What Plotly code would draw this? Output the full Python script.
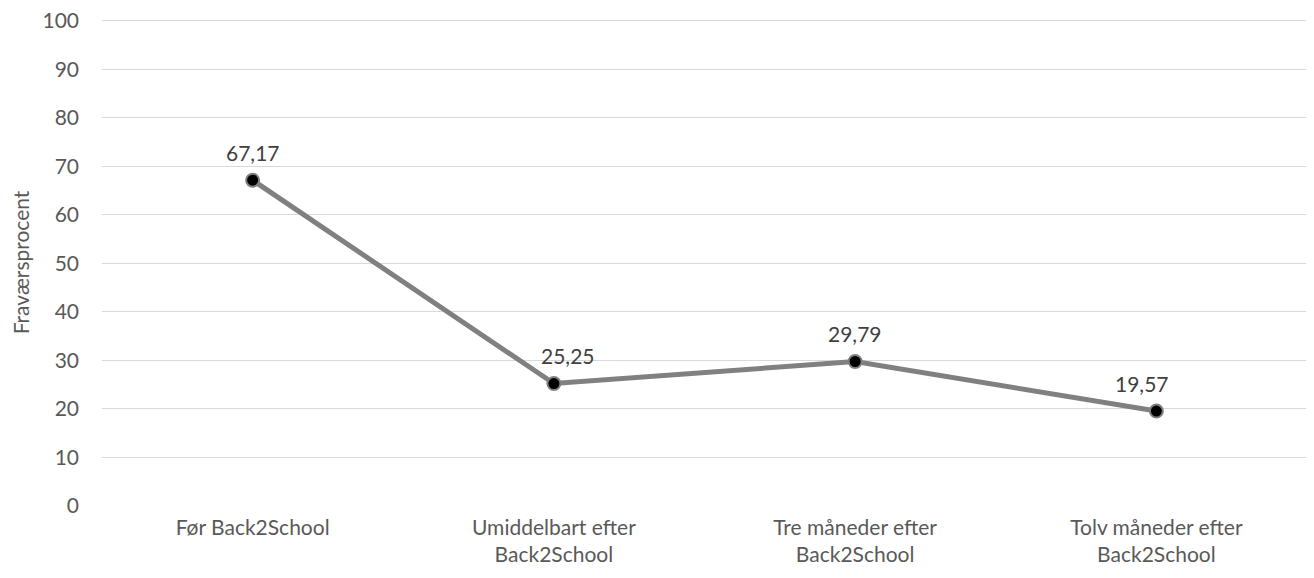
import plotly.graph_objects as go

categories = ["Før Back2School", "Umiddelbart efter<br>Back2School",
              "Tre måneder efter<br>Back2School", "Tolv måneder efter<br>Back2School"]
values = [67.17, 25.25, 29.79, 19.57]
labels = ["67,17", "25,25", "29,79", "19,57"]
y_ticks = list(range(0, 101, 10))

# label placement tweaks (pixels), as in the original
label_dx = [0, 14, 0, -14]

FONT = "Lato"
TXT = "#595959"
FS = 21

fig = go.Figure()
fig.add_trace(go.Scatter(
    x=categories, y=values, mode="lines+markers",
    line=dict(color="#808080", width=5),
    marker=dict(size=13, color="black", line=dict(color="#808080", width=2)),
    cliponaxis=False, showlegend=False,
))
for c, v, t, dx in zip(categories, values, labels, label_dx):
    fig.add_annotation(x=c, y=v, text=t, showarrow=False, xshift=dx, yshift=28,
                       font=dict(family=FONT, size=FS, color="#404040"))

fig.update_layout(
    width=1314, height=578,
    margin=dict(l=94, r=15, t=11, b=80),
    paper_bgcolor="white", plot_bgcolor="white",
    font=dict(family=FONT, size=FS, color=TXT),
)
fig.update_xaxes(
    type="category", range=[-0.5, 3.5], showgrid=False, showline=False, ticks="",
    automargin=False,
    tickfont=dict(family=FONT, size=FS, color=TXT), ticklabelstandoff=7,
)
fig.update_yaxes(
    range=[0, 100.4], tickvals=y_ticks, showgrid=True, gridcolor="#d9d9d9",
    gridwidth=1.3, zeroline=False, showline=False, ticks="", ticklen=0,
    ticklabeloverflow="allow", automargin=False,
    tickfont=dict(family=FONT, size=FS, color=TXT), ticklabelstandoff=22,
    title=dict(text="Fraværsprocent", font=dict(family=FONT, size=FS, color=TXT), standoff=14),
)
fig.write_html("out.html")
